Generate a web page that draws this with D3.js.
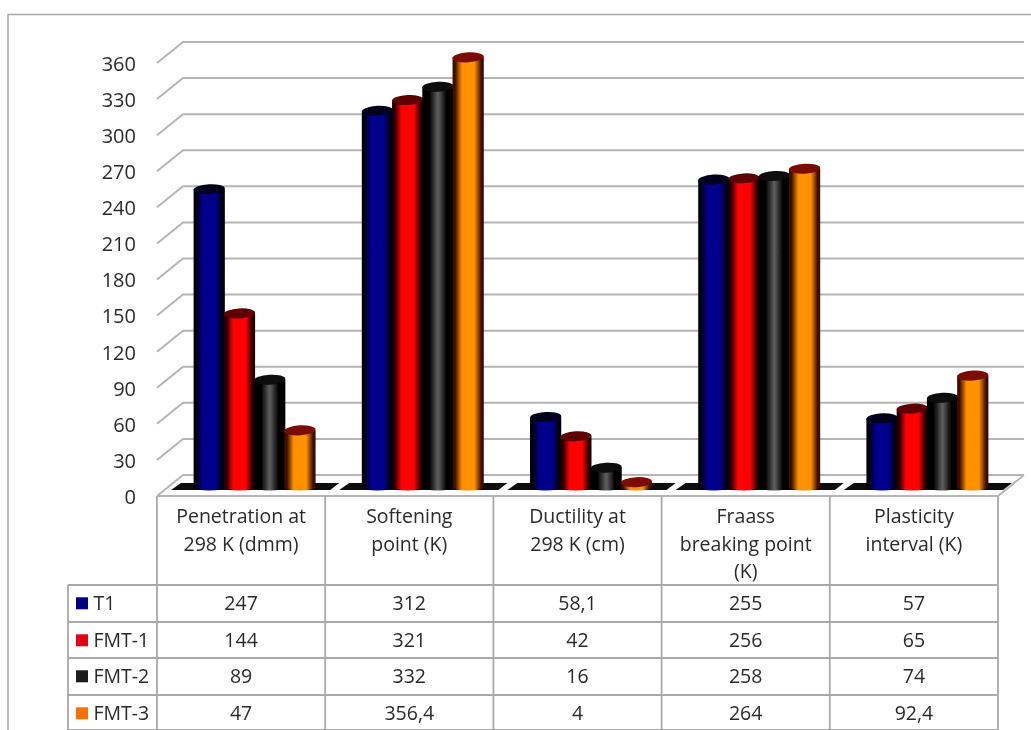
<!DOCTYPE html>
<html>
<head>
<meta charset="utf-8">
<title>Bitumen properties</title>
<script src="https://d3js.org/d3.v7.min.js"></script>
<style>
body { margin: 0; background: #fff; }
text { font-family: "Open Sans", Lato, sans-serif; fill: #2b2b2b; }
</style>
</head>
<body>
<svg id="chart" width="1031" height="730"></svg>
<script>
var categories = [["Penetration at", "298 K (dmm)"], ["Softening", "point (K)"], ["Ductility at", "298 K (cm)"], ["Fraass", "breaking point", "(K)"], ["Plasticity", "interval (K)"]];
var seriesNames = ["T1", "FMT-1", "FMT-2", "FMT-3"];
var t1 = [247, 312, 58.1, 255, 57];
var fmt1 = [144, 321, 42, 256, 65];
var fmt2 = [89, 332, 16, 258, 74];
var fmt3 = [47, 356.4, 4, 264, 92.4];
var seriesValues = [t1, fmt1, fmt2, fmt3];
var tickValues = d3.range(0, 361, 30);

// body, edge, cap, legend
var colors = [
	{ mid: "#00008c", edge: "#00000c", cap: "#00001a", key: "#000080" },
	{ mid: "#ff0000", edge: "#200000", cap: "#5e0000", key: "#e30613" },
	{ mid: "#606060", edge: "#000000", cap: "#0a0a0a", key: "#1c1c1c" },
	{ mid: "#ff9000", edge: "#3c0d00", cap: "#7a1000", key: "#f57000" }
];

var svg = d3.select("#chart");
var depthX = 26, depthY = 21;
var gridColor = "#b5b5b5", tableColor = "#a9a9a9";
var fontSize = "19.5px";

var defs = svg.append("defs");
defs.append("filter").attr("id", "soft").attr("x", "-5%").attr("y", "-5%").attr("width", "110%").attr("height", "110%")
	.append("feGaussianBlur").attr("stdDeviation", 0.6);
colors.forEach(function(c, i) {
	var g = defs.append("linearGradient").attr("id", "bar" + i);
	g.append("stop").attr("offset", "0%").attr("stop-color", c.edge);
	g.append("stop").attr("offset", i == 2 ? "22%" : "8%").attr("stop-color", c.edge);
	g.append("stop").attr("offset", i == 2 ? "50%" : "30%").attr("stop-color", c.mid);
	g.append("stop").attr("offset", i == 2 ? "50%" : "70%").attr("stop-color", c.mid);
	g.append("stop").attr("offset", i == 2 ? "78%" : "92%").attr("stop-color", c.edge);
	g.append("stop").attr("offset", "100%").attr("stop-color", c.edge);
});

var root = svg.append("g").attr("filter", "url(#soft)");

// outer frame, cut off by the bottom and right of the picture
root.append("path").attr("d", "M8,730V14.5H1031").attr("fill", "none").attr("stroke", "#a8a8a8").attr("stroke-width", 1.5);

var yFront = d3.scaleLinear().domain([0, 360]).range([496, 63]);
var yBar = d3.scaleLinear().domain([0, 360]).range([487, 53]);

var columns = d3.scaleBand().domain(d3.range(categories.length)).range([157, 998]);
var groups = d3.scaleBand().domain(d3.range(categories.length)).range([170, 1011]);
var bars = d3.scaleBand().domain(d3.range(seriesNames.length)).range([0, 121]);

// walls
var grid = root.append("g").attr("fill", "none").attr("stroke", gridColor).attr("stroke-width", 2);
tickValues.forEach(function(v) {
	var y = yFront(v);
	grid.append("path").attr("d", "M157," + y + "L" + (157 + depthX) + "," + (y - depthY) + "H1024");
});
grid.append("path").attr("d", "M157,496H998L1024,475").attr("stroke-width", 2);

// dark floor band, broken at each category
categories.forEach(function(c, i) {
	var x0 = columns(i);
	root.append("path")
		.attr("d", "M" + (x0 + 14) + ",490L" + (x0 + 24) + ",483H" + (x0 + columns.step() + 14) + "L" + (x0 + columns.step() + 5) + ",490Z")
		.attr("fill", "#0a0a0a");
});

// cylinders
var barW = bars.bandwidth() + 1;
var capRy = 5;
seriesNames.forEach(function(s, si) {
	var g = root.append("g");
	seriesValues[si].forEach(function(v, ci) {
		var x = groups(ci) + (groups.bandwidth() - 121) / 2 + bars(si);
		var top = yBar(v), base = yBar(0);
		var rx = barW / 2;
		g.append("path")
			.attr("d", "M" + x + "," + top + "V" + base + "A" + rx + ",3.5 0 0 0 " + (x + barW) + "," + base + "V" + top + "Z")
			.attr("fill", "url(#bar" + si + ")");
		g.append("ellipse")
			.attr("cx", x + rx).attr("cy", top).attr("rx", rx).attr("ry", capRy)
			.attr("transform", "rotate(-3," + (x + rx) + "," + top + ")")
			.attr("fill", colors[si].cap);
	});
});

// y axis
var axis = root.append("g").attr("transform", "translate(136,1)")
	.call(d3.axisLeft(yFront).tickValues(tickValues).tickSize(0).tickPadding(0));
axis.select(".domain").remove();
axis.selectAll("text").style("font-size", "20px");

// data table
var rowY = d3.scaleOrdinal().domain(seriesNames).range([585, 622, 658, 695]);
var rowH = 36.6;
var table = root.append("g").attr("fill", "none").attr("stroke", tableColor).attr("stroke-width", 1.8);
columns.domain().concat([categories.length]).forEach(function(i) {
	var x = 157 + i * columns.step();
	table.append("line").attr("x1", x).attr("x2", x).attr("y1", 496).attr("y2", 730);
});
table.append("line").attr("x1", 68).attr("x2", 68).attr("y1", 585).attr("y2", 730);
seriesNames.forEach(function(s) {
	table.append("line").attr("x1", 68).attr("x2", 998).attr("y1", rowY(s)).attr("y2", rowY(s));
});
table.append("line").attr("x1", 68).attr("x2", 998).attr("y1", 730).attr("y2", 730);

categories.forEach(function(lines, i) {
	var x = columns(i) + columns.bandwidth() / 2;
	lines.forEach(function(l, li) {
		root.append("text").attr("x", x).attr("y", 523 + li * 27.5)
			.attr("text-anchor", "middle").style("font-size", fontSize).text(l);
	});
});

seriesNames.forEach(function(s, si) {
	var y = rowY(s) + rowH / 2;
	root.append("rect").attr("x", 76).attr("y", y - 6).attr("width", 12).attr("height", 12).attr("fill", colors[si].key);
	root.append("text").attr("x", 93.5).attr("y", y + 6.5).style("font-size", fontSize).text(s);
	seriesValues[si].forEach(function(v, ci) {
		root.append("text")
			.attr("x", columns(ci) + columns.bandwidth() / 2).attr("y", y + 6.5)
			.attr("text-anchor", "middle").style("font-size", fontSize)
			.text(String(v).replace(".", ","));
	});
});
</script>
</body>
</html>
